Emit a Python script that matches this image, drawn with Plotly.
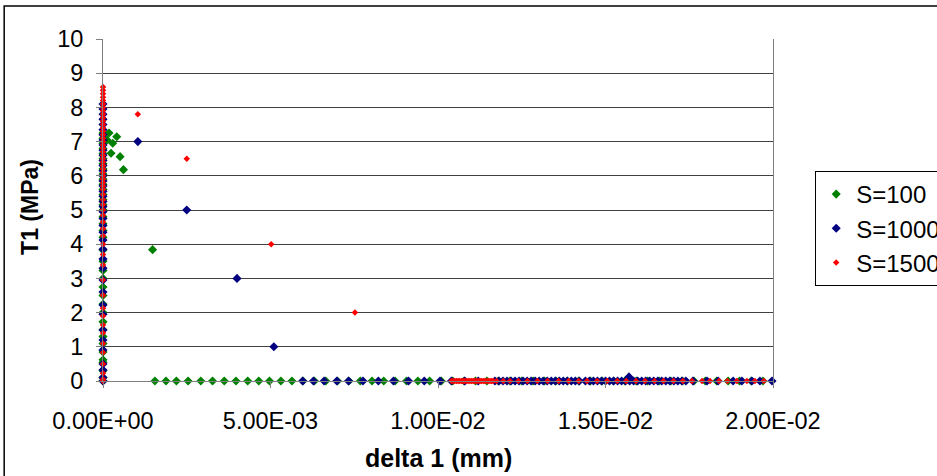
import plotly.graph_objects as go

# ---------------- data ----------------
# S=100 (green)
g_col_y = [0, 0.1, 0.3, 0.55, 0.62, 0.85, 1.1, 1.3, 1.5, 1.73, 2.0, 2.25, 2.5, 2.75, 3.0, 3.23,
           3.5, 3.83, 4.2, 4.4, 4.6, 4.8, 5.0, 5.15, 5.3, 5.45, 5.6, 5.75, 5.9, 6.05, 6.2, 6.35,
           6.5, 6.65, 6.8, 6.95, 7.1, 7.25]
g_off_x = [0.00018, 0.00041, 0.00029, 0.00012, 0.00024, 0.00051, 0.00061, 0.00148]
g_off_y = [7.25, 7.14, 6.95, 7.05, 6.66, 6.56, 6.18, 3.84]
g_base_x = [0.00155, 0.00188, 0.00219, 0.00254, 0.00292, 0.00327, 0.00362, 0.00397, 0.00432,
            0.00465, 0.00497, 0.00531, 0.00564, 0.00597, 0.00631, 0.00665, 0.00700, 0.00734,
            0.00768, 0.00803, 0.00838, 0.00872, 0.00906, 0.00940, 0.00975, 0.01010, 0.01044,
            0.01078, 0.01112, 0.01146, 0.01180, 0.01215, 0.01250, 0.01284, 0.01318, 0.01352,
            0.01386, 0.01420, 0.01455, 0.01490, 0.01524, 0.01558, 0.01592, 0.01626, 0.01660,
            0.01695, 0.01730, 0.01764, 0.01798, 0.01832, 0.01866, 0.01900, 0.01935, 0.01970]

# S=1000 (navy)
b_col_y = [0, 0.1, 0.32, 0.5, 0.91, 1.2, 1.49, 1.95, 2.22, 2.6, 2.95, 3.3, 3.57, 3.85, 4.12,
           4.35, 4.55, 4.75, 4.95, 5.1, 5.25, 5.4, 5.55, 5.7, 5.85, 6.0, 6.15, 6.3, 6.45, 6.6,
           6.75, 6.9, 7.05, 7.2, 7.35, 7.5, 7.65, 7.8, 7.95, 8.1]
b_off_x = [0.00104, 0.0025, 0.0040, 0.0051, 0.0157]
b_off_y = [7.0, 5.0, 3.0, 1.0, 0.12]
b_base_x = [0.00596, 0.00628, 0.00660, 0.00698, 0.00733, 0.00776, 0.00822, 0.00867, 0.00912,
            0.00959, 0.01006, 0.01040, 0.01080, 0.01120,
            0.01170, 0.01182, 0.01194, 0.01206, 0.01218, 0.01230, 0.01242, 0.01254, 0.01266,
            0.01278, 0.01290, 0.01302, 0.01314, 0.01326, 0.01338, 0.01350, 0.01362, 0.01374,
            0.01386, 0.01398, 0.01410, 0.01422,
            0.01440, 0.01452, 0.01464, 0.01476, 0.01488, 0.01500, 0.01512, 0.01524, 0.01536,
            0.01548, 0.01560, 0.01572, 0.01584, 0.01596, 0.01608, 0.01620, 0.01632, 0.01644,
            0.01656, 0.01668, 0.01680, 0.01692, 0.01704, 0.01716, 0.01728, 0.01740,
            0.01761, 0.01803, 0.01836, 0.01881, 0.01907, 0.01937, 0.01961, 0.01997]

# S=1500 (red)
r_col_y = [0, 0.05, 0.23, 0.5, 0.83, 1.1, 1.4, 1.64, 1.9, 2.13, 2.51, 2.95, 3.39, 3.7, 4.0,
           4.25, 4.45, 4.65, 4.85, 5.0, 5.15, 5.3, 5.45, 5.6, 5.7, 5.8, 5.9, 6.0, 6.1, 6.2,
           6.3, 6.4, 6.5, 6.6, 6.7, 6.8, 6.9, 7.0, 7.1, 7.2, 7.3, 7.4, 7.5, 7.6, 7.7, 7.8,
           7.9, 8.0, 8.1, 8.2, 8.3, 8.4, 8.5, 8.6]
r_off_x = [0.00104, 0.0025, 0.00502, 0.00752]
r_off_y = [7.8, 6.5, 4.0, 2.0]
r_base_x = [0.01040, 0.01045, 0.01050, 0.01055, 0.01060, 0.01065, 0.01070, 0.01075, 0.01080,
            0.01085, 0.01090, 0.01095, 0.01100, 0.01105, 0.01110, 0.01115, 0.01120, 0.01125,
            0.01130, 0.01135, 0.01140, 0.01145, 0.01150, 0.01155, 0.01160, 0.01165,
            0.01175, 0.01195, 0.01215, 0.01240, 0.01267, 0.01297, 0.01327, 0.01360, 0.01390,
            0.01420, 0.01445, 0.01475, 0.01505, 0.01535, 0.01562, 0.01591, 0.01618, 0.01646,
            0.01673, 0.01703, 0.01731, 0.01758, 0.01788, 0.01812, 0.01839, 0.01864, 0.01892,
            0.01922, 0.01946, 0.01973]

x_tick_vals = [0, 0.005, 0.01, 0.015, 0.02]
x_tick_text = ["0.00E+00", "5.00E-03", "1.00E-02", "1.50E-02", "2.00E-02"]
y_tick_vals = list(range(0, 11))

series = [
    ("S=100", g_col_y, g_off_x, g_off_y, g_base_x, "#008000", "diamond", 7),
    ("S=1000", b_col_y, b_off_x, b_off_y, b_base_x, "#000080", "diamond", 7),
    ("S=1500", r_col_y, r_off_x, r_off_y, r_base_x, "#FF0000", "diamond", 5),
]

FONT = "Arial, 'Liberation Sans', sans-serif"

fig = go.Figure()
for name, col_y, off_x, off_y, base_x, color, sym, size in series:
    xs = [0] * len(col_y) + off_x + base_x
    ys = col_y + off_y + [0] * len(base_x)
    fig.add_trace(go.Scatter(
        x=xs, y=ys, mode="markers", name=name, cliponaxis=False,
        marker=dict(symbol=sym, size=size, color=color, line=dict(width=0)),
    ))

fig.update_layout(
    width=937, height=476,
    margin=dict(l=103, r=164, t=39, b=95, autoexpand=False),
    paper_bgcolor="white", plot_bgcolor="white",
    font=dict(family=FONT, color="black", size=23.5),
    showlegend=True,
    legend=dict(x=1.063, y=0.614, xanchor="left", yanchor="top",
                bordercolor="black", borderwidth=1, bgcolor="white",
                font=dict(size=24, family=FONT)),
    xaxis=dict(range=[0, 0.02], tickvals=x_tick_vals, ticktext=x_tick_text,
               showgrid=False, zeroline=False, showline=True, linecolor="#808080",
               linewidth=1, ticks="outside", ticklen=6, tickcolor="#808080",
               tickfont=dict(size=23.5), ticklabelstandoff=13),
    yaxis=dict(range=[0, 10], tickvals=y_tick_vals, showgrid=True, gridcolor="#404040",
               gridwidth=1, zeroline=False, showline=True, linecolor="#808080",
               linewidth=1, ticks="outside", ticklen=6, tickcolor="#808080",
               tickfont=dict(size=23.5), ticklabelstandoff=8, mirror=True),
    annotations=[
        dict(text="<b>delta 1 (mm)</b>", xref="paper", yref="paper", x=0.5, y=-0.225,
             xanchor="center", yanchor="middle", showarrow=False, font=dict(size=25)),
        dict(text="<b>T1 (MPa)</b>", xref="paper", yref="paper", x=-0.11, y=0.51,
             xanchor="center", yanchor="middle", showarrow=False, textangle=-90,
             font=dict(size=23)),
    ],
    shapes=[
        dict(type="rect", xref="paper", yref="paper", x0=-0.1475, x1=1.4, y0=-0.5, y1=1.0965,
             line=dict(color="black", width=1.5), fillcolor="rgba(0,0,0,0)", layer="below"),
    ],
)

fig.write_html("out.html", config={"displayModeBar": False},
               post_script="document.body.style.margin='0px';document.body.style.padding='0px';")
